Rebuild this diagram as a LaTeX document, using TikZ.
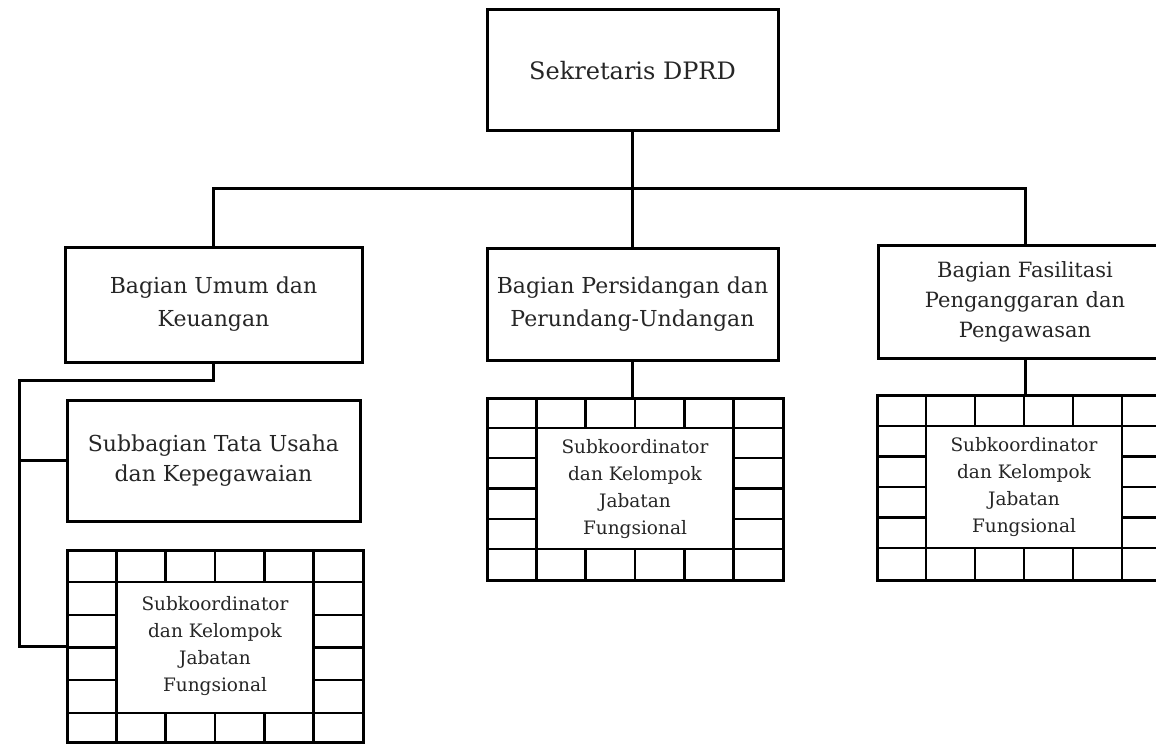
\documentclass[tikz,border=0pt]{standalone}
\usepackage{fontspec}
\setmainfont{DejaVu Serif}
\newcommand\mygrid[6]{% x0 y0 x1 y1 ya yb
  \pgfmathsetmacro\gw{(#3-#1)/6}
  \pgfmathsetmacro\rh{(#6-#5)/4}
  \draw[gline] (#1,#5) -- (#3,#5) (#1,#6) -- (#3,#6);
  \foreach \i in {1,...,5} {\draw[gline] (#1+\i*\gw,#2) -- (#1+\i*\gw,#5) (#1+\i*\gw,#6) -- (#1+\i*\gw,#4);}
  \draw[gline] (#1+\gw,#5) -- (#1+\gw,#6) (#3-\gw,#5) -- (#3-\gw,#6);
  \foreach \j in {1,2,3} {\draw[gline] (#1,#5+\j*\rh) -- (#1+\gw,#5+\j*\rh) (#3-\gw,#5+\j*\rh) -- (#3,#5+\j*\rh);}
}
\begin{document}
\begin{tikzpicture}[x=1pt,y=-1pt,
  box/.style={draw, line width=3pt, align=center, inner sep=0pt, text=black!85},
  bigtxt/.style={font=\fontsize{24}{32}\selectfont},
  midtxt/.style={font=\fontsize{22}{33}\selectfont},
  midtxtb/.style={font=\fontsize{21}{30}\selectfont},
  subtxt/.style={font=\fontsize{22}{30}\selectfont},
  smtxt/.style={font=\fontsize{18.5}{27}\selectfont},
  conn/.style={line width=3pt},
  gline/.style={line width=2.4pt}]
\clip (0,0) rectangle (1156,746);
\fill[white] (0,0) rectangle (1156,746);
% boxes
\node[box, bigtxt, minimum width=291pt, minimum height=121pt] (sek) at (632.5,70.5) {Sekretaris DPRD};
\node[box, midtxt, minimum width=297pt, minimum height=115pt] (umum) at (213.5,304.5) {Bagian Umum dan\\Keuangan};
\node[box, midtxt, minimum width=291pt, minimum height=112pt] (pers) at (632.5,304) {Bagian Persidangan dan\\Perundang-Undangan};
\node[box, midtxtb, minimum width=294pt, minimum height=113pt] (fas) at (1025,301.5) {Bagian Fasilitasi\\Penganggaran dan\\Pengawasan};
\node[box, subtxt, minimum width=293pt, minimum height=121pt] (sub) at (213.5,460.5) {Subbagian Tata Usaha\\dan Kepegawaian};
% grid boxes
\mygrid{67}{550}{363}{742}{582}{713}
\node[box, smtxt, minimum width=296pt, minimum height=192pt] (gridl) at (215,646) {Subkoordinator\\dan Kelompok\\Jabatan\\Fungsional};
\mygrid{487}{398}{783}{580}{428}{549}
\node[box, smtxt, minimum width=296pt, minimum height=182pt] (gridm) at (635,489) {Subkoordinator\\dan Kelompok\\Jabatan\\Fungsional};
\mygrid{877}{395}{1171}{580}{426}{548}
\node[box, smtxt, minimum width=294pt, minimum height=185pt] (gridr) at (1024,487.5) {Subkoordinator\\dan Kelompok\\Jabatan\\Fungsional};
% connectors
\coordinate (bus) at (632.5,189);
\draw[conn] (sek.south) -- (bus);
\draw[conn] (umum.north) |- (bus) -| (fas.north);
\draw[conn] (bus) -- (pers.north);
\draw[conn] (pers.south) -- (pers.south |- gridm.north);
\draw[conn] (fas.south) -- (fas.south |- gridr.north);
\coordinate (lk) at (19,380);
\draw[conn] (umum.south) |- (lk) |- (gridl.west);
\draw[conn] (lk |- sub.west) -- (sub.west);
\end{tikzpicture}
\end{document}
